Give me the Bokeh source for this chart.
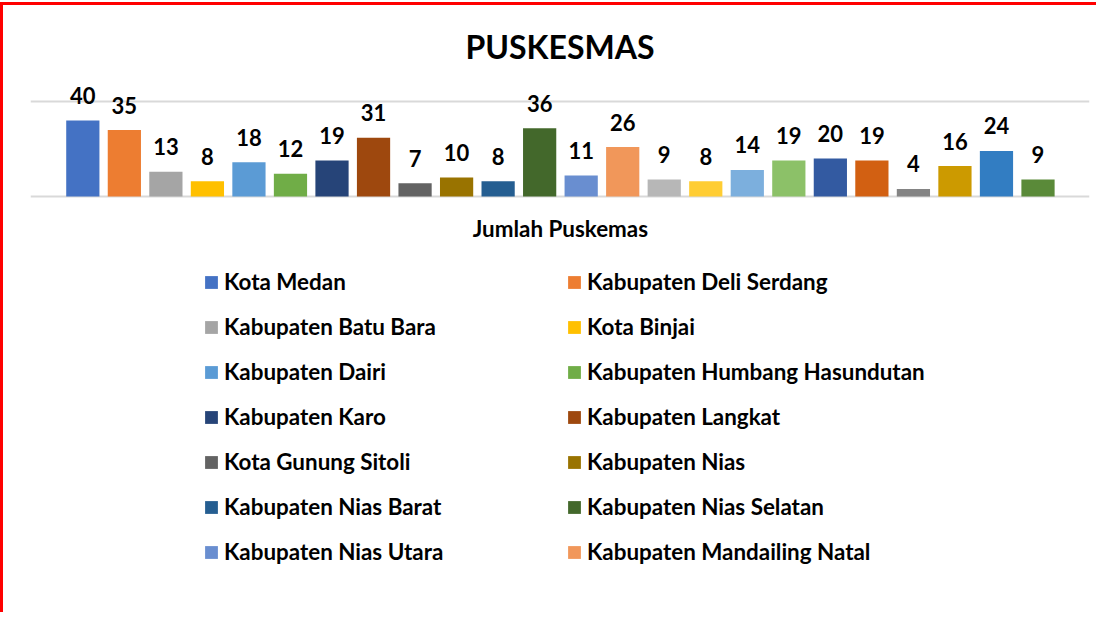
from bokeh.plotting import figure
from bokeh.models import ColumnDataSource, Legend, LegendItem, FixedTicker, Range1d
from bokeh.embed import file_html
from bokeh.resources import INLINE
from bokeh.core.properties import value

title_text = "PUSKESMAS"
axis_title = "Jumlah Puskemas"
legend_names = [
    "Kota Medan", "Kabupaten Deli Serdang",
    "Kabupaten Batu Bara", "Kota Binjai",
    "Kabupaten Dairi", "Kabupaten Humbang Hasundutan",
    "Kabupaten Karo", "Kabupaten Langkat",
    "Kota Gunung Sitoli", "Kabupaten Nias",
    "Kabupaten Nias Barat", "Kabupaten Nias Selatan",
    "Kabupaten Nias Utara", "Kabupaten Mandailing Natal",
]
counts = [40, 35, 13, 8, 18, 12, 19, 31, 7, 10, 8, 36,
          11, 26, 9, 8, 14, 19, 20, 19, 4, 16, 24, 9]
bar_colors = [
    "#4472C4", "#ED7D31", "#A5A5A5", "#FFC000", "#5B9BD5", "#70AD47",
    "#264478", "#9E480E", "#636363", "#997300", "#255E91", "#43682B",
    "#698ED0", "#F1975A", "#B7B7B7", "#FFCD33", "#7CAFDD", "#8CC168",
    "#335AA1", "#D26012", "#848484", "#CC9A00", "#327DC2", "#5A8A39",
]

FONT = "Lato"
positions = list(range(len(counts)))
src = ColumnDataSource(dict(x=positions, top=counts, color=bar_colors,
                            label=[str(c) for c in counts]))

p = figure(width=1096, height=610, output_backend="svg", toolbar_location=None,
           x_range=Range1d(-1.26, 24.24), y_range=Range1d(-217.9, 63.7),
           min_border_left=27, min_border_right=10, min_border_top=70,
           min_border_bottom=5)
p.styles = {"border-left": "3px solid #FF0000", "border-top": "3px solid #FF0000",
            "margin-top": "2px"}
p.outline_line_color = None
p.background_fill_color = "white"
p.border_fill_color = "white"

p.title.text = title_text
p.title.align = "center"
p.title.text_font = FONT
p.title.text_font_size = "32px"
p.title.text_font_style = "bold"
p.title.text_color = "#000000"
p.title.standoff = 19

p.xaxis.visible = False
p.yaxis.visible = False
p.xgrid.visible = False
p.ygrid.ticker = FixedTicker(ticks=[0, 50])
p.ygrid.grid_line_color = "#D9D9D9"
p.ygrid.grid_line_width = 2

bars = p.vbar(x="x", top="top", bottom=0, width=0.8, fill_color="color",
              line_color=None, source=src)

p.text(x="x", y="top", text="label", source=src, text_align="center",
       text_baseline="alphabetic", y_offset=-25, text_font=value(FONT),
       text_font_size="22px", text_font_style="bold", text_color="#000000")

# category axis title under the bars
p.text(x=[(positions[0] + positions[-1]) / 2], y=[0], text=[axis_title],
       text_align="center", text_baseline="middle", y_offset=32,
       text_font=value(FONT), text_font_size="22.4px", text_font_style="bold",
       text_color="#000000")

def make_legend(idx, xloc):
    items = [LegendItem(label=legend_names[i], renderers=[bars], index=i) for i in idx]
    lg = Legend(items=items, location=(xloc, 45), orientation="vertical",
                glyph_width=16, glyph_height=16, label_height=21, spacing=18,
                label_standoff=5, padding=0, margin=0,
                border_line_color=None, background_fill_alpha=0,
                label_text_font=FONT, label_text_font_size="22.4px",
                label_text_font_style="bold", label_text_color="#000000")
    return lg

p.add_layout(make_legend(range(0, 14, 2), 173), "center")
p.add_layout(make_legend(range(1, 14, 2), 536), "center")

open("out.html", "w").write(file_html(p, INLINE))
